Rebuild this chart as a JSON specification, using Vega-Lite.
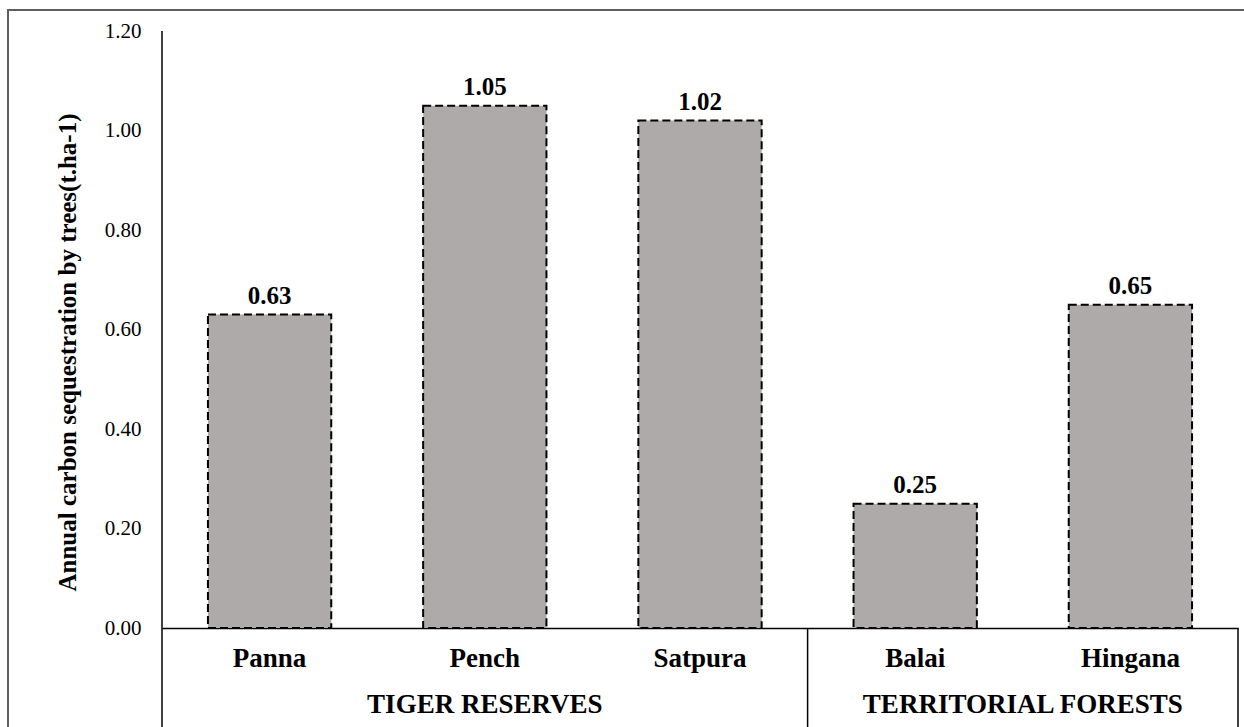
{
  "$schema": "https://vega.github.io/schema/vega-lite/v6.json",
  "autosize": "none",
  "padding": {"left": 8, "top": 10, "right": 0, "bottom": 0},
  "width": 1240,
  "height": 720,
  "background": "white",
  "config": {
    "font": "Liberation Serif",
    "view": {"stroke": "#5f5f5f", "strokeWidth": 2}
  },
  "datasets": {
    "sites": [
      {"site": "Panna", "group": "TIGER RESERVES", "carbon": 0.63},
      {"site": "Pench", "group": "TIGER RESERVES", "carbon": 1.05},
      {"site": "Satpura", "group": "TIGER RESERVES", "carbon": 1.02},
      {"site": "Balai", "group": "TERRITORIAL FORESTS", "carbon": 0.25},
      {"site": "Hingana", "group": "TERRITORIAL FORESTS", "carbon": 0.65}
    ],
    "groups": [
      {"label": "TIGER RESERVES", "anchor": "Pench", "ylev": -0.155},
      {"label": "TERRITORIAL FORESTS", "anchor": "Balai", "ylev": -0.155}
    ],
    "dividers": [
      {"site": "Panna", "top": 1.2, "bottom": -0.25},
      {"site": "Balai", "top": 0, "bottom": -0.25},
      {"site": "Hingana", "top": 0, "bottom": -0.25}
    ]
  },
  "layer": [
    {
      "data": {"name": "sites"},
      "mark": {"type": "bar", "width": {"band": 0.573}, "fill": "#aeaaaa", "stroke": "black", "strokeWidth": 2, "strokeDash": [8, 4]},
      "encoding": {
        "x": {
          "field": "site", "type": "nominal",
          "scale": {"domain": ["Panna", "Pench", "Satpura", "Balai", "Hingana"], "range": [154, 1230], "paddingInner": 0, "paddingOuter": 0},
          "axis": {"orient": "bottom", "offset": -102, "title": null, "ticks": false, "domain": true, "domainColor": "black", "domainWidth": 1.5, "labelAngle": 0, "labelFontSize": 27, "labelFontWeight": "bold", "labelColor": "black", "labelPadding": 17}
        },
        "y": {
          "field": "carbon", "type": "quantitative",
          "scale": {"domain": [0, 1.2], "range": [618, 21], "nice": false, "zero": true},
          "axis": {"orient": "left", "offset": -154, "values": [0, 0.2, 0.4, 0.6, 0.8, 1.0, 1.2], "format": ".2f", "ticks": false, "domain": false, "grid": false, "labelFontSize": 21, "labelColor": "black", "labelPadding": 21, "title": "Annual carbon sequestration by trees(t.ha-1)", "titleFontSize": 25, "titleFontWeight": "bold", "titleColor": "black", "titlePadding": 24, "titleY": 342}
        }
      }
    },
    {
      "data": {"name": "sites"},
      "mark": {"type": "text", "baseline": "alphabetic", "dy": -11, "fontSize": 25, "fontWeight": "bold", "color": "black"},
      "encoding": {
        "x": {"field": "site", "type": "nominal"},
        "y": {"field": "carbon", "type": "quantitative"},
        "text": {"field": "carbon", "type": "quantitative", "format": ".2f"}
      }
    },
    {
      "data": {"name": "dividers"},
      "transform": [{"filter": "datum.site !== 'Hingana'"}],
      "mark": {"type": "rule", "color": "black", "strokeWidth": 1.5},
      "encoding": {
        "x": {"field": "site", "type": "nominal", "bandPosition": 0},
        "y": {"field": "top", "type": "quantitative"},
        "y2": {"field": "bottom"}
      }
    },
    {
      "data": {"name": "dividers"},
      "transform": [{"filter": "datum.site === 'Hingana'"}],
      "mark": {"type": "rule", "color": "black", "strokeWidth": 1.5},
      "encoding": {
        "x": {"field": "site", "type": "nominal", "bandPosition": 1},
        "y": {"field": "top", "type": "quantitative"},
        "y2": {"field": "bottom"}
      }
    },
    {
      "data": {"name": "groups"},
      "transform": [{"filter": "datum.anchor === 'Pench'"}],
      "mark": {"type": "text", "baseline": "middle", "fontSize": 27, "fontWeight": "bold", "color": "black"},
      "encoding": {
        "x": {"field": "anchor", "type": "nominal", "bandPosition": 0.5},
        "y": {"field": "ylev", "type": "quantitative"},
        "text": {"field": "label"}
      }
    },
    {
      "data": {"name": "groups"},
      "transform": [{"filter": "datum.anchor === 'Balai'"}],
      "mark": {"type": "text", "baseline": "middle", "fontSize": 27, "fontWeight": "bold", "color": "black"},
      "encoding": {
        "x": {"field": "anchor", "type": "nominal", "bandPosition": 1},
        "y": {"field": "ylev", "type": "quantitative"},
        "text": {"field": "label"}
      }
    }
  ]
}
